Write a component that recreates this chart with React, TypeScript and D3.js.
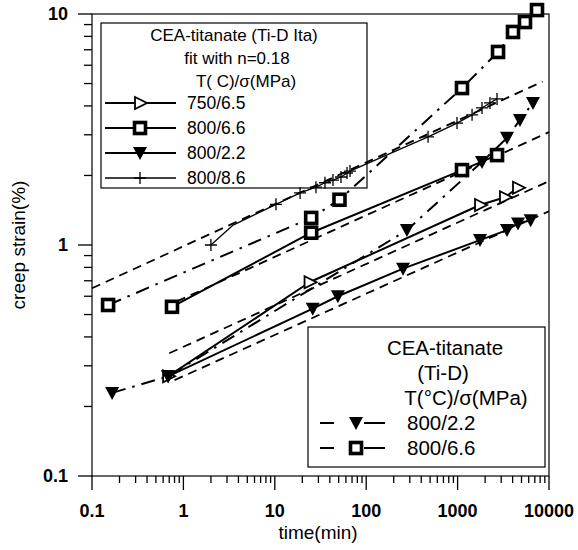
import React, { useEffect, useRef } from 'react';
import * as d3 from 'd3';

// time (min), creep strain (%)
// CEA-titanate (Ti-D Ita), solid lines
const ita750_65 = [[0.68, 0.27], [24, 0.69], [1760, 1.49], [3300, 1.61], [4580, 1.77]];
const ita800_66 = [[0.75, 0.54], [25, 1.13], [1117, 2.11], [2700, 2.45]];
const ita800_22 = [[0.68, 0.27], [26, 0.53], [49, 0.6], [253, 0.79], [1758, 1.05], [3470, 1.16], [4580, 1.24], [6300, 1.28]];
const ita800_86 = [[2, 1.0], [10.3, 1.5], [18.9, 1.68], [28.2, 1.78], [35.4, 1.86], [43.3, 1.91], [53, 1.97], [61.7, 2.05], [66.5, 2.09], [475, 2.94], [985, 3.37], [1440, 3.66], [1850, 3.92], [2260, 4.12], [2700, 4.29]];
// bend of the 800/8.6 curve between its first two points (no symbol)
const ita800_86Bend = [[3.5, 1.22]];

// fits with n=0.18 (end points)
const fit86 = [[0.1, 0.65], [8500, 5.1]];
const fit66 = [[0.85, 0.57], [10000, 3.08]];
const fit65 = [[0.7, 0.34], [10000, 1.89]];
const fit22 = [[0.8, 0.26], [10000, 1.4]];

// CEA-titanate (Ti-D), dash-dot lines
const tid800_22 = [[0.166, 0.229], [0.68, 0.27], [279, 1.16], [1850, 2.29], [3470, 2.91], [4810, 3.48], [6680, 4.12]];
const tid800_66 = [[0.15, 0.55], [25, 1.31], [51, 1.57], [1117, 4.78], [2770, 6.85], [4040, 8.36], [5460, 9.23], [7390, 10.4]];

const xTicks = [0.1, 1, 10, 100, 1000, 10000];
const yTicks = [0.1, 1, 10];
const legend1Title = ["CEA-titanate (Ti-D Ita)", "fit with n=0.18", "T( C)/\u03c3(MPa)"];
const legend1Labels = ["750/6.5", "800/6.6", "800/2.2", "800/8.6"];
const legend2Title = ["CEA-titanate", "(Ti-D)", "T(\u00b0C)/\u03c3(MPa)"];
const legend2Labels = ["800/2.2", "800/6.6"];

const FONT = "'Liberation Sans', Arial, sans-serif";

const App = () => {
    const svgRef = useRef(null);

    useEffect(() => {
        const width = 578;
        const height = 550;
        const margin = { top: 14, right: 29, bottom: 74, left: 92 };

        const svg = d3.select(svgRef.current);
        svg.selectAll("*").remove();
        svg.attr("width", width).attr("height", height);

        svg.append("rect").attr("width", width).attr("height", height).attr("fill", "white");

        const x = d3.scaleLog().domain([0.1, 10000]).range([margin.left, width - margin.right]);
        const y = d3.scaleLog().domain([0.1, 10]).range([height - margin.bottom, margin.top]);
        const x0 = x.range()[0], x1 = x.range()[1];
        const y0 = y.range()[0], y1 = y.range()[1];

        // frame
        svg.append("rect")
            .attr("x", x0).attr("y", y1)
            .attr("width", x1 - x0).attr("height", y0 - y1)
            .attr("fill", "none").attr("stroke", "black").attr("stroke-width", 1.2);

        // ticks
        const xMinor = [];
        const yMinor = [];
        for (let e = -1; e < 4; e++) for (let m = 2; m < 10; m++) xMinor.push(m * Math.pow(10, e));
        for (let e = -1; e < 1; e++) for (let m = 2; m < 10; m++) yMinor.push(m * Math.pow(10, e));

        const ax = svg.append("g").attr("stroke", "black").attr("stroke-width", 1.3);
        xTicks.forEach(t => ax.append("line").attr("x1", x(t)).attr("x2", x(t)).attr("y1", y0).attr("y2", y0 + 14));
        xMinor.forEach(t => ax.append("line").attr("x1", x(t)).attr("x2", x(t)).attr("y1", y0).attr("y2", y0 + 7));
        yTicks.forEach(t => ax.append("line").attr("y1", y(t)).attr("y2", y(t)).attr("x1", x0).attr("x2", x0 - 14));
        yMinor.forEach(t => ax.append("line").attr("y1", y(t)).attr("y2", y(t)).attr("x1", x0).attr("x2", x0 - 8));

        svg.append("g").selectAll("text").data(xTicks).enter().append("text")
            .attr("x", d => x(d)).attr("y", y0 + 41)
            .attr("text-anchor", "middle")
            .attr("font-family", FONT).attr("font-size", 18).attr("font-weight", "bold")
            .text(d => d3.format("~g")(d));

        svg.append("g").selectAll("text").data(yTicks).enter().append("text")
            .attr("x", x0 - 24).attr("y", d => y(d) + 6)
            .attr("text-anchor", "end")
            .attr("font-family", FONT).attr("font-size", 18).attr("font-weight", "bold")
            .text(d => d3.format("~g")(d));

        svg.append("text")
            .attr("x", 318).attr("y", 539)
            .attr("text-anchor", "middle")
            .attr("font-family", FONT).attr("font-size", 19)
            .text("time(min)");

        svg.append("text")
            .attr("transform", "rotate(-90)")
            .attr("x", -245).attr("y", 25)
            .attr("text-anchor", "middle")
            .attr("font-family", FONT).attr("font-size", 19)
            .text("creep strain(%)");

        const line = d3.line().x(d => x(d[0])).y(d => y(d[1]));

        const drawLine = (data, width, dash) => {
            svg.append("path")
                .datum(data)
                .attr("d", line)
                .attr("fill", "none")
                .attr("stroke", "black")
                .attr("stroke-width", width)
                .attr("stroke-dasharray", dash)
                .attr("stroke-linejoin", "round");
        };

        // marker shapes
        const marker = (g, kind, cx, cy) => {
            if (kind === "tri") {
                g.append("path")
                    .attr("d", `M${cx - 5},${cy - 6}L${cx + 7},${cy}L${cx - 5},${cy + 6}Z`)
                    .attr("fill", "white").attr("stroke", "black").attr("stroke-width", 1.8);
            } else if (kind === "down") {
                g.append("path")
                    .attr("d", `M${cx - 7},${cy - 6}L${cx + 7},${cy - 6}L${cx},${cy + 7}Z`)
                    .attr("fill", "black");
            } else if (kind === "square") {
                g.append("rect")
                    .attr("x", cx - 5.5).attr("y", cy - 5.5).attr("width", 11).attr("height", 11)
                    .attr("fill", "white").attr("stroke", "black").attr("stroke-width", 3.6);
            } else if (kind === "plus") {
                g.append("path")
                    .attr("d", `M${cx - 6},${cy}H${cx + 6}M${cx},${cy - 6}V${cy + 6}`)
                    .attr("stroke", "black").attr("stroke-width", 1.3);
            }
        };

        const drawMarks = (data, kind) => {
            const g = svg.append("g");
            data.forEach(d => marker(g, kind, x(d[0]), y(d[1])));
        };

        // fits
        const fitDash = "9,6";
        [fit86, fit66, fit65, fit22].forEach(f => drawLine(f, 1.8, fitDash));

        // Ti-D dash-dot
        const dashDot = "14,7,2.5,7";
        drawLine(tid800_66, 2, dashDot);
        drawLine(tid800_22, 2, dashDot);

        // Ti-D Ita solid
        drawLine(ita750_65, 2, null);
        drawLine(ita800_66, 2, null);
        drawLine(ita800_22, 2, null);
        const path86 = ita800_86.concat(ita800_86Bend).sort((a, b) => a[0] - b[0]);
        drawLine(path86, 1.3, null);

        drawMarks(ita750_65, "tri");
        drawMarks(ita800_66, "square");
        drawMarks(ita800_22, "down");
        drawMarks(ita800_86, "plus");
        drawMarks(tid800_22, "down");
        drawMarks(tid800_66, "square");

        // legend 1 (transparent box, data shows through)
        const l1 = svg.append("g");
        l1.append("rect")
            .attr("x", 101).attr("y", 23).attr("width", 266).attr("height", 165)
            .attr("fill", "none").attr("stroke", "black").attr("stroke-width", 1.2);
        const l1x = [234, 237, 246];
        legend1Title.forEach((t, i) => {
            l1.append("text")
                .attr("x", l1x[i]).attr("y", 41 + i * 23)
                .attr("text-anchor", "middle")
                .attr("font-family", FONT).attr("font-size", 17)
                .text(t);
        });
        const l1kinds = ["tri", "square", "down", "plus"];
        legend1Labels.forEach((t, i) => {
            const cy = 103 + i * 25;
            l1.append("line")
                .attr("x1", 105).attr("x2", 176).attr("y1", cy).attr("y2", cy)
                .attr("stroke", "black").attr("stroke-width", i === 3 ? 1.3 : 2);
            marker(l1, l1kinds[i], 140, cy);
            l1.append("text")
                .attr("x", 187).attr("y", cy + 6)
                .attr("font-family", FONT).attr("font-size", 17.5)
                .text(t);
        });

        // legend 2
        const l2 = svg.append("g");
        l2.append("rect")
            .attr("x", 308).attr("y", 327).attr("width", 237).attr("height", 140)
            .attr("fill", "white").attr("stroke", "black").attr("stroke-width", 1.2);
        const l2x = [445, 443, 466];
        legend2Title.forEach((t, i) => {
            l2.append("text")
                .attr("x", l2x[i]).attr("y", 355 + i * 25)
                .attr("text-anchor", "middle")
                .attr("font-family", FONT).attr("font-size", 20.5)
                .text(t);
        });
        const l2kinds = ["down", "square"];
        legend2Labels.forEach((t, i) => {
            const cy = 423 + i * 25;
            l2.append("line")
                .attr("x1", 320).attr("x2", 334).attr("y1", cy).attr("y2", cy)
                .attr("stroke", "black").attr("stroke-width", 2);
            l2.append("line")
                .attr("x1", 364).attr("x2", 385).attr("y1", cy).attr("y2", cy)
                .attr("stroke", "black").attr("stroke-width", 2);
            marker(l2, l2kinds[i], 356, cy);
            l2.append("text")
                .attr("x", 407).attr("y", cy + 7)
                .attr("font-family", FONT).attr("font-size", 20.5)
                .text(t);
        });
    }, []);

    return (
        <svg ref={svgRef} style={{ position: "absolute", left: 0, top: 0 }}></svg>
    );
};

export default App;
